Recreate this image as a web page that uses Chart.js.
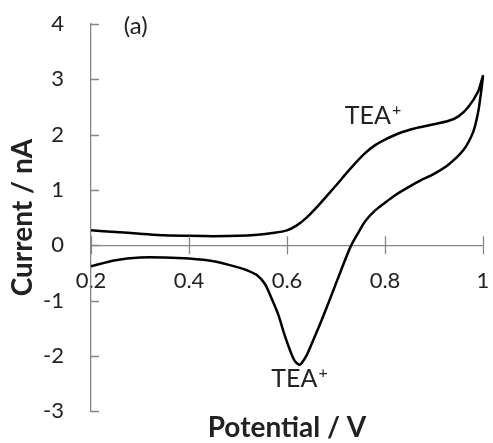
<!DOCTYPE html>
<html lang="en">
<head>
  <meta charset="UTF-8" />
  <title>Cyclic voltammogram</title>
  <script src="https://cdn.jsdelivr.net/npm/chart.js"></script>
  <style>
    body { margin: 0; background: #fff; }
    #wrap { width: 493px; height: 443px; }
  </style>
</head>
<body>
  <div id="wrap"><canvas id="cv"></canvas></div>

  <script>
    // Potential sweep (V): forward scan to 1.0 V, then back to 0.2 V
    const potential = [
      0.20, 0.25, 0.30, 0.35, 0.40, 0.45, 0.50, 0.54, 0.57, 0.60,
      0.62, 0.64, 0.66, 0.68, 0.70, 0.72, 0.74, 0.76, 0.78, 0.80,
      0.83, 0.86, 0.89, 0.93, 0.95, 0.97, 0.99, 1.00,
      0.995, 0.99, 0.98, 0.96, 0.93, 0.90, 0.87, 0.84, 0.82, 0.80,
      0.78, 0.76, 0.745, 0.73, 0.71, 0.69, 0.67, 0.65, 0.64, 0.63,
      0.625, 0.615, 0.605, 0.595, 0.582, 0.568, 0.555, 0.54, 0.52, 0.50,
      0.45, 0.40, 0.35, 0.30, 0.25, 0.20
    ];
    // Current (nA) at each potential above
    const current = [
      0.27, 0.24, 0.21, 0.18, 0.17, 0.165, 0.17, 0.19, 0.22, 0.27,
      0.36, 0.50, 0.68, 0.88, 1.08, 1.29, 1.49, 1.67, 1.81, 1.91,
      2.03, 2.11, 2.17, 2.25, 2.33, 2.50, 2.78, 3.06,
      2.70, 2.40, 2.05, 1.72, 1.46, 1.29, 1.16, 1.01, 0.90, 0.77,
      0.63, 0.44, 0.22, -0.02, -0.46, -0.92, -1.37, -1.79, -1.99, -2.13,
      -2.16, -2.08, -1.87, -1.62, -1.25, -0.95, -0.70, -0.55, -0.46, -0.40,
      -0.29, -0.24, -0.22, -0.22, -0.27, -0.38
    ];
    const xRange = [0.2, 1.0];
    const yRange = [-3, 4];
    const xStep = 0.2;
    const yStep = 1;

    // text notes: [text, superscript, potential, current]
    const notes = [
      ['TEA', '+', 0.718, 2.19],
      ['TEA', '+', 0.568, -2.57]
    ];
    const panelLabel = ['(a)', 0.267, 3.82];

    const FONT = 'Lato, "Open Sans", sans-serif';
    const AXIS = '#868686';
    const TEXT = '#222';

    const points = potential.map((v, i) => ({ x: v, y: current[i] }));

    // keep the plot box fixed: no extra room for label overhang
    function noPadding(scale) {
      scale.paddingLeft = scale.paddingRight = 0;
      scale.paddingTop = scale.paddingBottom = 0;
    }

    // tick marks and text notes drawn on top of the plot
    const decor = {
      id: 'decor',
      afterDraw(chart) {
        const { ctx, scales: { x, y } } = chart;
        ctx.save();
        ctx.strokeStyle = AXIS;
        ctx.lineWidth = 1.3;
        ctx.beginPath();
        y.ticks.forEach(t => {
          const py = Math.round(y.getPixelForValue(t.value)) + 0.5;
          ctx.moveTo(x.left, py);
          ctx.lineTo(x.left + 8, py);
        });
        const y0 = y.getPixelForValue(0);
        x.ticks.forEach(t => {
          const px = Math.round(x.getPixelForValue(t.value)) + 0.5;
          ctx.moveTo(px, y0 - 9);
          ctx.lineTo(px, y0 + 9);
        });
        ctx.stroke();

        ctx.fillStyle = TEXT;
        ctx.textBaseline = 'alphabetic';
        ctx.textAlign = 'left';
        notes.forEach(([txt, sup, vx, vy]) => {
          const px = x.getPixelForValue(vx);
          const py = y.getPixelForValue(vy);
          ctx.font = '25px ' + FONT;
          ctx.fillText(txt, px, py);
          const w = ctx.measureText(txt).width;
          ctx.font = '16px ' + FONT;
          ctx.fillText(sup, px + w + 1, py - 9);
        });
        ctx.font = '24px ' + FONT;
        ctx.fillText(panelLabel[0], x.getPixelForValue(panelLabel[1]), y.getPixelForValue(panelLabel[2]));
        ctx.restore();
      }
    };

    new Chart(document.getElementById('cv'), {
      type: 'scatter',
      data: {
        datasets: [{
          data: points,
          showLine: true,
          borderColor: '#000',
          borderWidth: 2.5,
          pointRadius: 0,
          tension: 0.3,
          clip: 6
        }]
      },
      options: {
        responsive: true,
        maintainAspectRatio: false,
        animation: false,
        layout: { padding: { top: 24, right: 10, left: 0, bottom: 0 } },
        plugins: {
          legend: { display: false },
          tooltip: { enabled: false },
          title: {
            display: true,
            text: 'Potential / V',
            position: 'bottom',
            fullSize: false,
            color: TEXT,
            font: { family: FONT, size: 28, weight: 'bold', lineHeight: 1.1 },
            padding: { top: 1, bottom: 0 }
          }
        },
        scales: {
          x: {
            type: 'linear',
            min: xRange[0],
            max: xRange[1],
            position: { y: 0 },
            ticks: {
              stepSize: xStep,
              color: TEXT,
              font: { family: FONT, size: 22 },
              padding: 22,
              maxRotation: 0,
              callback: v => String(+v.toFixed(1))
            },
            grid: { drawOnChartArea: false, drawTicks: false },
            border: { color: AXIS, width: 1.3 },
            afterFit: noPadding
          },
          y: {
            min: yRange[0],
            max: yRange[1],
            ticks: {
              stepSize: yStep,
              color: TEXT,
              font: { family: FONT, size: 22 },
              padding: 27
            },
            grid: { drawOnChartArea: false, drawTicks: false },
            border: { color: AXIS, width: 1.3 },
            title: {
              display: true,
              text: 'Current / nA',
              color: TEXT,
              font: { family: FONT, size: 28, weight: 'bold' },
              padding: { top: 6, bottom: 0 }
            },
            afterFit(scale) {
              noPadding(scale);
              scale.width = 91;
            }
          }
        }
      },
      plugins: [decor]
    });
  </script>
</body>
</html>
